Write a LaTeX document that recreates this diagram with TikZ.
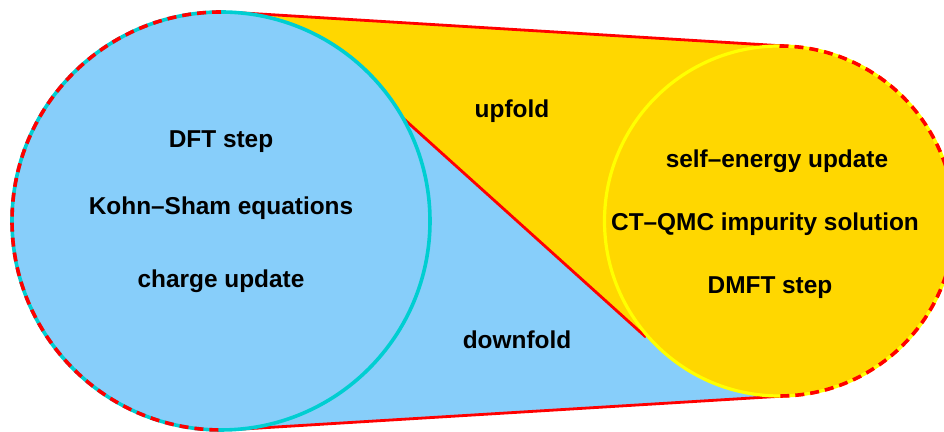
\documentclass[tikz,border=0pt]{standalone}
\usepackage{fontspec}
\setmainfont{Liberation Sans}
\definecolor{skyfill}{RGB}{135,206,250}
\definecolor{goldfill}{RGB}{255,215,0}
\definecolor{turq}{RGB}{0,206,209}
\definecolor{rimyellow}{RGB}{255,255,0}
\tikzset{
  steptext/.style={font=\fontsize{12.2}{14}\selectfont\bfseries, anchor=base, inner sep=0pt},
  redrim/.style={draw=red, line width=1.8pt, dash pattern=on 4.5pt off 3pt},
  redline/.style={draw=red, line width=1.4pt},
}
\begin{document}
\begin{tikzpicture}[x=0.5pt, y=0.5pt]
  \useasboundingbox (0,0) rectangle (944,432);
  \clip (0,0) rectangle (944,432);
  % centres and contact points
  \coordinate (dftc) at (221,211);
  \coordinate (dmftc) at (779.5,211);
  \coordinate (dfttop) at ([shift={(dftc)}]86.5:209);
  \coordinate (dftbot) at ([shift={(dftc)}]-86.5:209);
  \coordinate (dmfttop) at ([shift={(dmftc)}]86.5:175);
  \coordinate (dmftbot) at ([shift={(dmftc)}]-86.5:175);
  \coordinate (up) at ([shift={(dftc)}]29.5:209);
  \coordinate (down) at ([shift={(dmftc)}]221:177);
  % band between the circles
  \fill [skyfill] (dfttop) -- (dmfttop) -- (dmftbot) -- (dftbot) -- cycle;
  \fill [goldfill] (dftc) -- (dfttop) -- (dmfttop) -- (dmftc) -- (down) -- (up) -- cycle;
  \draw [redline] (dfttop) -- (dmfttop);
  \draw [redline] (dftbot) -- (dmftbot);
  \draw [redline] (up) -- (down);
  % the two circles
  \draw [fill=skyfill, draw=turq, line width=1.8pt] (dftc) circle [radius=209];
  \draw [fill=goldfill, draw=rimyellow, line width=1.6pt] (dmftc) circle [radius=175];
  \draw [redrim] ([shift={(dftc)}]90:209) arc [start angle=90, end angle=270, radius=209];
  \draw [redrim] ([shift={(dmftc)}]90:175) arc [start angle=90, end angle=-90, radius=175];
  % texts
  \node [steptext] (dft) at (221,284) {DFT step};
  \node [steptext] (ks) at (221,217) {Kohn–Sham equations};
  \node [steptext] (charge) at (221,144) {charge update};
  \node [steptext] (selfen) at (777,264) {self–energy update};
  \node [steptext] (ctqmc) at (765,201) {CT–QMC impurity solution};
  \node [steptext] (dmft) at (770,138) {DMFT step};
  \node [steptext] (upfold) at (512,314) {upfold};
  \node [steptext] (downfold) at (517,83) {downfold};
\end{tikzpicture}
\end{document}
